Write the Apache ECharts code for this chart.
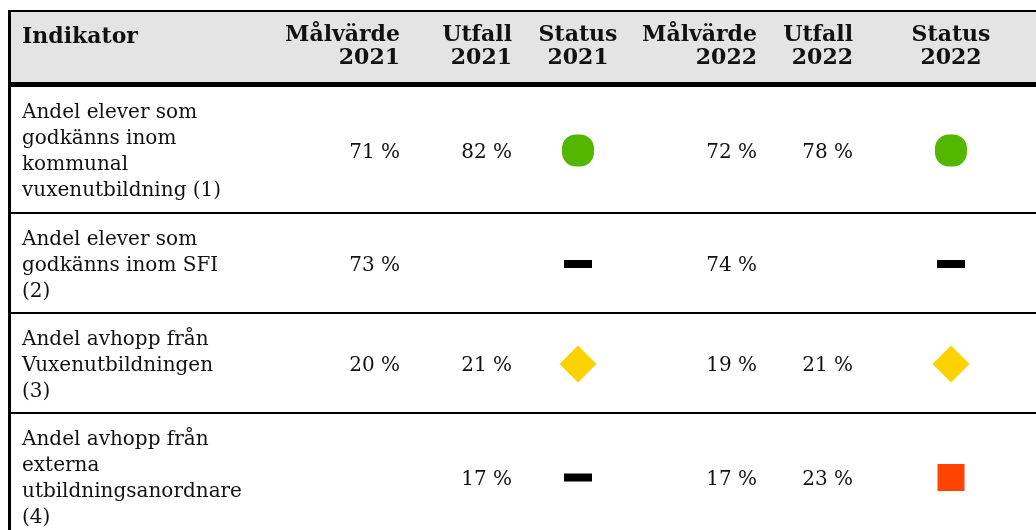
<!DOCTYPE html>
<html lang="sv">
<head>
    <meta charset="UTF-8">
    <title>indikatorer</title>
</head>
<style>
    * {
        margin: 0;
        padding: 0;
    }

    html, body {
        height: 100%;
        background: #fff;
    }

    #chart {
        width: 1036px;
        height: 530px;
    }
</style>
<script src="https://cdn.jsdelivr.net/npm/echarts@6/dist/echarts.min.js"></script>
<body>
<div id="chart"></div>
</body>
<script>
  const headers = ['Indikator', 'Målvärde\n2021', 'Utfall\n2021', 'Status\n2021', 'Målvärde\n2022', 'Utfall\n2022', 'Status\n2022']
  const indicators = [
    'Andel elever som\ngodkänns inom\nkommunal\nvuxenutbildning (1)',
    'Andel elever som\ngodkänns inom SFI\n(2)',
    'Andel avhopp från\nVuxenutbildningen\n(3)',
    'Andel avhopp från\nexterna\nutbildningsanordnare\n(4)'
  ]
  const target2021 = [71, 73, 20, null]
  const outcome2021 = [82, null, 21, 17]
  const status2021 = ['ok', 'none', 'warn', 'none']
  const target2022 = [72, 74, 19, 17]
  const outcome2022 = [78, null, 21, 23]
  const status2022 = ['ok', 'none', 'warn', 'bad']

  const W = 1036
  const H = 530
  const FONT = '"DejaVu Serif", Georgia, serif'
  const BODY_FONT = '20px ' + FONT
  const HEAD_FONT = 'bold 22px ' + FONT
  const LINE_H = 26
  const LEFT = 8
  const HEAD_TOP = 10
  const HEAD_BOTTOM = 82
  const HEAD_RULE = 5
  const ROW_RULE = 2

  // column anchors: x and alignment
  const columns = [
    {x: 22, align: 'left'},
    {x: 400, align: 'right'},
    {x: 512, align: 'right'},
    {x: 578, align: 'center'},
    {x: 757, align: 'right'},
    {x: 853, align: 'right'},
    {x: 951, align: 'center'}
  ]

  const rowValues = indicators.map((name, i) => [name, target2021[i], outcome2021[i], status2021[i], target2022[i], outcome2022[i], status2022[i]])

  const rowLayout = []
  let cursor = HEAD_BOTTOM + HEAD_RULE
  indicators.forEach(name => {
    const lines = name.split('\n').length
    const h = lines * LINE_H + (lines > 3 ? 21 : 20)
    rowLayout.push({top: cursor, height: h})
    cursor += h + ROW_RULE
  })

  function statusShape(kind, c) {
    if (kind === 'ok') {
      return {type: 'rect', shape: {x: c[0] - 16, y: c[1] - 16, width: 32, height: 32, r: 14}, style: {fill: '#53b700'}}
    }
    if (kind === 'warn') {
      const s = 18.5
      return {type: 'polygon', shape: {points: [[c[0], c[1] - s], [c[0] + s, c[1]], [c[0], c[1] + s], [c[0] - s, c[1]]]}, style: {fill: '#fcd200'}}
    }
    if (kind === 'bad') {
      return {type: 'rect', shape: {x: c[0] - 13.5, y: c[1] - 13.5, width: 27, height: 27}, style: {fill: '#ff4300'}}
    }
    return {type: 'rect', shape: {x: c[0] - 14, y: c[1] - 4, width: 28, height: 8}, style: {fill: '#000'}}
  }

  function formatValue(v) {
    return v == null ? '' : v + '\u00a0%'
  }

  function renderHeader(params, api) {
    const topLeft = api.coord([LEFT, HEAD_TOP])
    const bottomRight = api.coord([W, HEAD_BOTTOM])
    const children = [
      {type: 'rect', shape: {x: topLeft[0], y: topLeft[1], width: bottomRight[0] - topLeft[0], height: bottomRight[1] - topLeft[1]}, style: {fill: '#e4e4e4'}},
      {type: 'rect', shape: {x: topLeft[0], y: topLeft[1], width: bottomRight[0] - topLeft[0], height: 2}, style: {fill: '#000'}},
      {type: 'rect', shape: {x: topLeft[0], y: bottomRight[1], width: bottomRight[0] - topLeft[0], height: HEAD_RULE}, style: {fill: '#000'}},
      {type: 'rect', shape: {x: topLeft[0], y: topLeft[1], width: 3, height: H}, style: {fill: '#000'}}
    ]
    headers.forEach((label, j) => {
      const single = label.indexOf('\n') < 0
      const c = api.coord([columns[j].x, single ? 37 : 46.5])
      children.push({
        type: 'text',
        x: c[0],
        y: c[1],
        style: {text: label, font: HEAD_FONT, fill: '#111', align: columns[j].align, verticalAlign: 'middle', lineHeight: 23}
      })
    })
    return {type: 'group', children: children}
  }

  function renderRow(params, api) {
    const i = params.dataIndex
    const row = rowLayout[i]
    const mid = row.top + row.height / 2
    const children = []
    rowValues[i].forEach((v, j) => {
      const col = columns[j]
      if (j === 3 || j === 6) {
        children.push(statusShape(v, api.coord([col.x, mid + 1])))
        return
      }
      const c = api.coord([col.x, mid + (j === 0 ? 2.5 : 3)])
      children.push({
        type: 'text',
        x: c[0],
        y: c[1],
        style: {text: j === 0 ? v : formatValue(v), font: BODY_FONT, fill: '#111', align: col.align, verticalAlign: 'middle', lineHeight: LINE_H}
      })
    })
    const a = api.coord([LEFT, row.top + row.height])
    const b = api.coord([W, row.top + row.height])
    children.push({type: 'rect', shape: {x: a[0], y: a[1], width: b[0] - a[0], height: ROW_RULE}, style: {fill: '#000'}})
    return {type: 'group', children: children}
  }

  const chart = echarts.init(document.getElementById('chart'))
  chart.setOption({
    animation: false,
    grid: {left: 0, right: 0, top: 0, bottom: 0},
    xAxis: {type: 'value', min: 0, max: W, show: false},
    yAxis: {type: 'value', min: 0, max: H, inverse: true, show: false},
    series: [
      {
        name: 'header',
        type: 'custom',
        renderItem: renderHeader,
        data: [[0, 0]]
      },
      {
        name: 'rows',
        type: 'custom',
        renderItem: renderRow,
        data: rowValues.map((r, i) => [0, i])
      }
    ]
  })
</script>
</html>
